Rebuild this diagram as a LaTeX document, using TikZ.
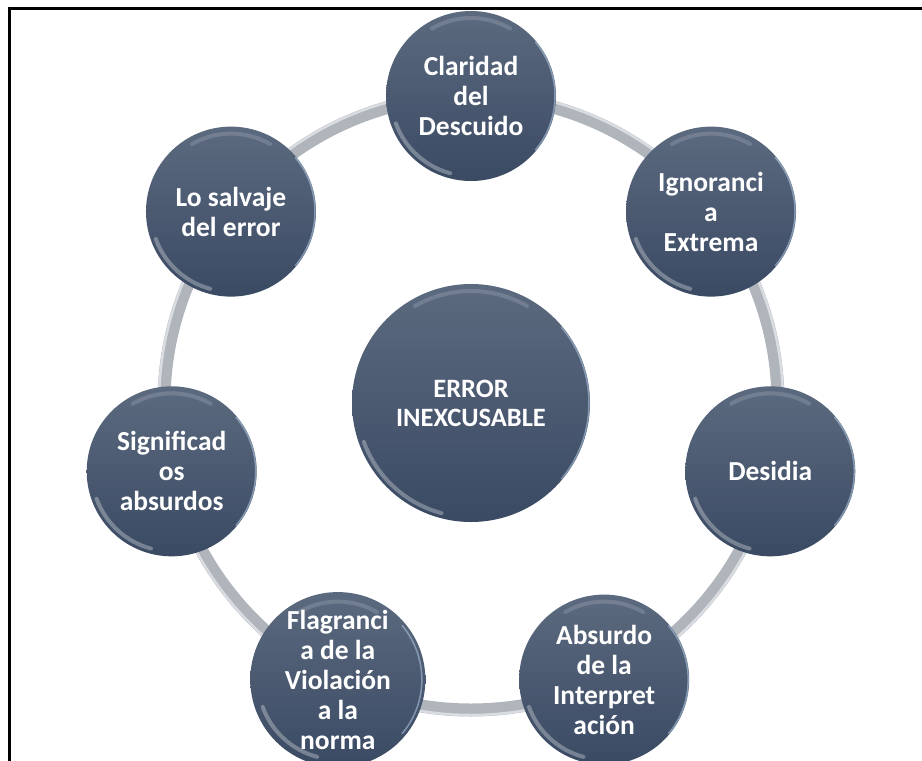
\documentclass[tikz,border=0pt]{standalone}
\usepackage{fontspec}
\setmainfont{Carlito}
\usetikzlibrary{calc}
\definecolor{balltop}{RGB}{92,106,127}
\definecolor{ballbot}{RGB}{58,74,99}
\definecolor{ringgray}{RGB}{176,180,187}
\definecolor{ringlight}{RGB}{222,225,229}
\definecolor{rimblue}{RGB}{170,195,220}
\tikzset{
  ball/.style={circle, inner sep=0pt, top color=balltop, bottom color=ballbot,
    text=white, align=center, font=\fontsize{27.5}{30}\selectfont\bfseries},
  smallball/.style={ball, minimum size=170},
  bigball/.style={ball, minimum size=238, font=\fontsize{26.5}{29}\selectfont\bfseries},
  ringband/.style={draw=ringgray, line width=13},
  ringshine/.style={draw=ringlight, line width=2.5, opacity=0.9},
  glint/.style={white, opacity=0.3, line width=4, line cap=round},
  rim/.style={rimblue, opacity=0.6, line width=1.5, line cap=round},
  frame/.style={line width=2.5, black}
}
\begin{document}
\begin{tikzpicture}[x=1pt,y=1pt]
\useasboundingbox (0,0) rectangle (922,-761);
\clip (0,0) rectangle (922,-761);
\draw[frame] (9.5,-761) -- (9.5,-8.5) -- (922,-8.5);
\node[bigball] (c) at (471,-403) {ERROR\\INEXCUSABLE};
\draw[ringband] (c.center) circle[radius=307];
\draw[ringshine] (c.center) circle[radius=312];
\begin{scope}[shift={(471,-403)}]
\node[smallball] (n1) at (90:307) {Claridad\\del\\Descuido};
\node[smallball] (n2) at (38.57:307) {Ignoranci\\a\\Extrema};
\node[smallball] (n3) at (-12.86:307) {Desidia};
\node[smallball] (n4) at (-64.29:307) {Absurdo\\de la\\Interpret\\ación};
\node[smallball] (n5) at (-115.71:307) {Flagranci\\a de la\\Violación\\a la\\norma};
\node[smallball] (n6) at (-167.14:307) {Significad\\os\\absurdos};
\node[smallball] (n7) at (141.43:307) {Lo salvaje\\del error};
\end{scope}
\foreach \n/\r in {c/119,n1/85,n2/85,n3/85,n4/85,n5/85,n6/85,n7/85}{
  \draw[glint] ($(\n.center)+(200:\r-5)$) arc[start angle=200,end angle=255,radius=\r-5];
  \draw[glint, opacity=0.15] ($(\n.center)+(60:\r-7)$) arc[start angle=60,end angle=120,radius=\r-7];
  \draw[rim] ($(\n.center)+(-40:\r-1)$) arc[start angle=-40,end angle=40,radius=\r-1];
}
\end{tikzpicture}
\end{document}
